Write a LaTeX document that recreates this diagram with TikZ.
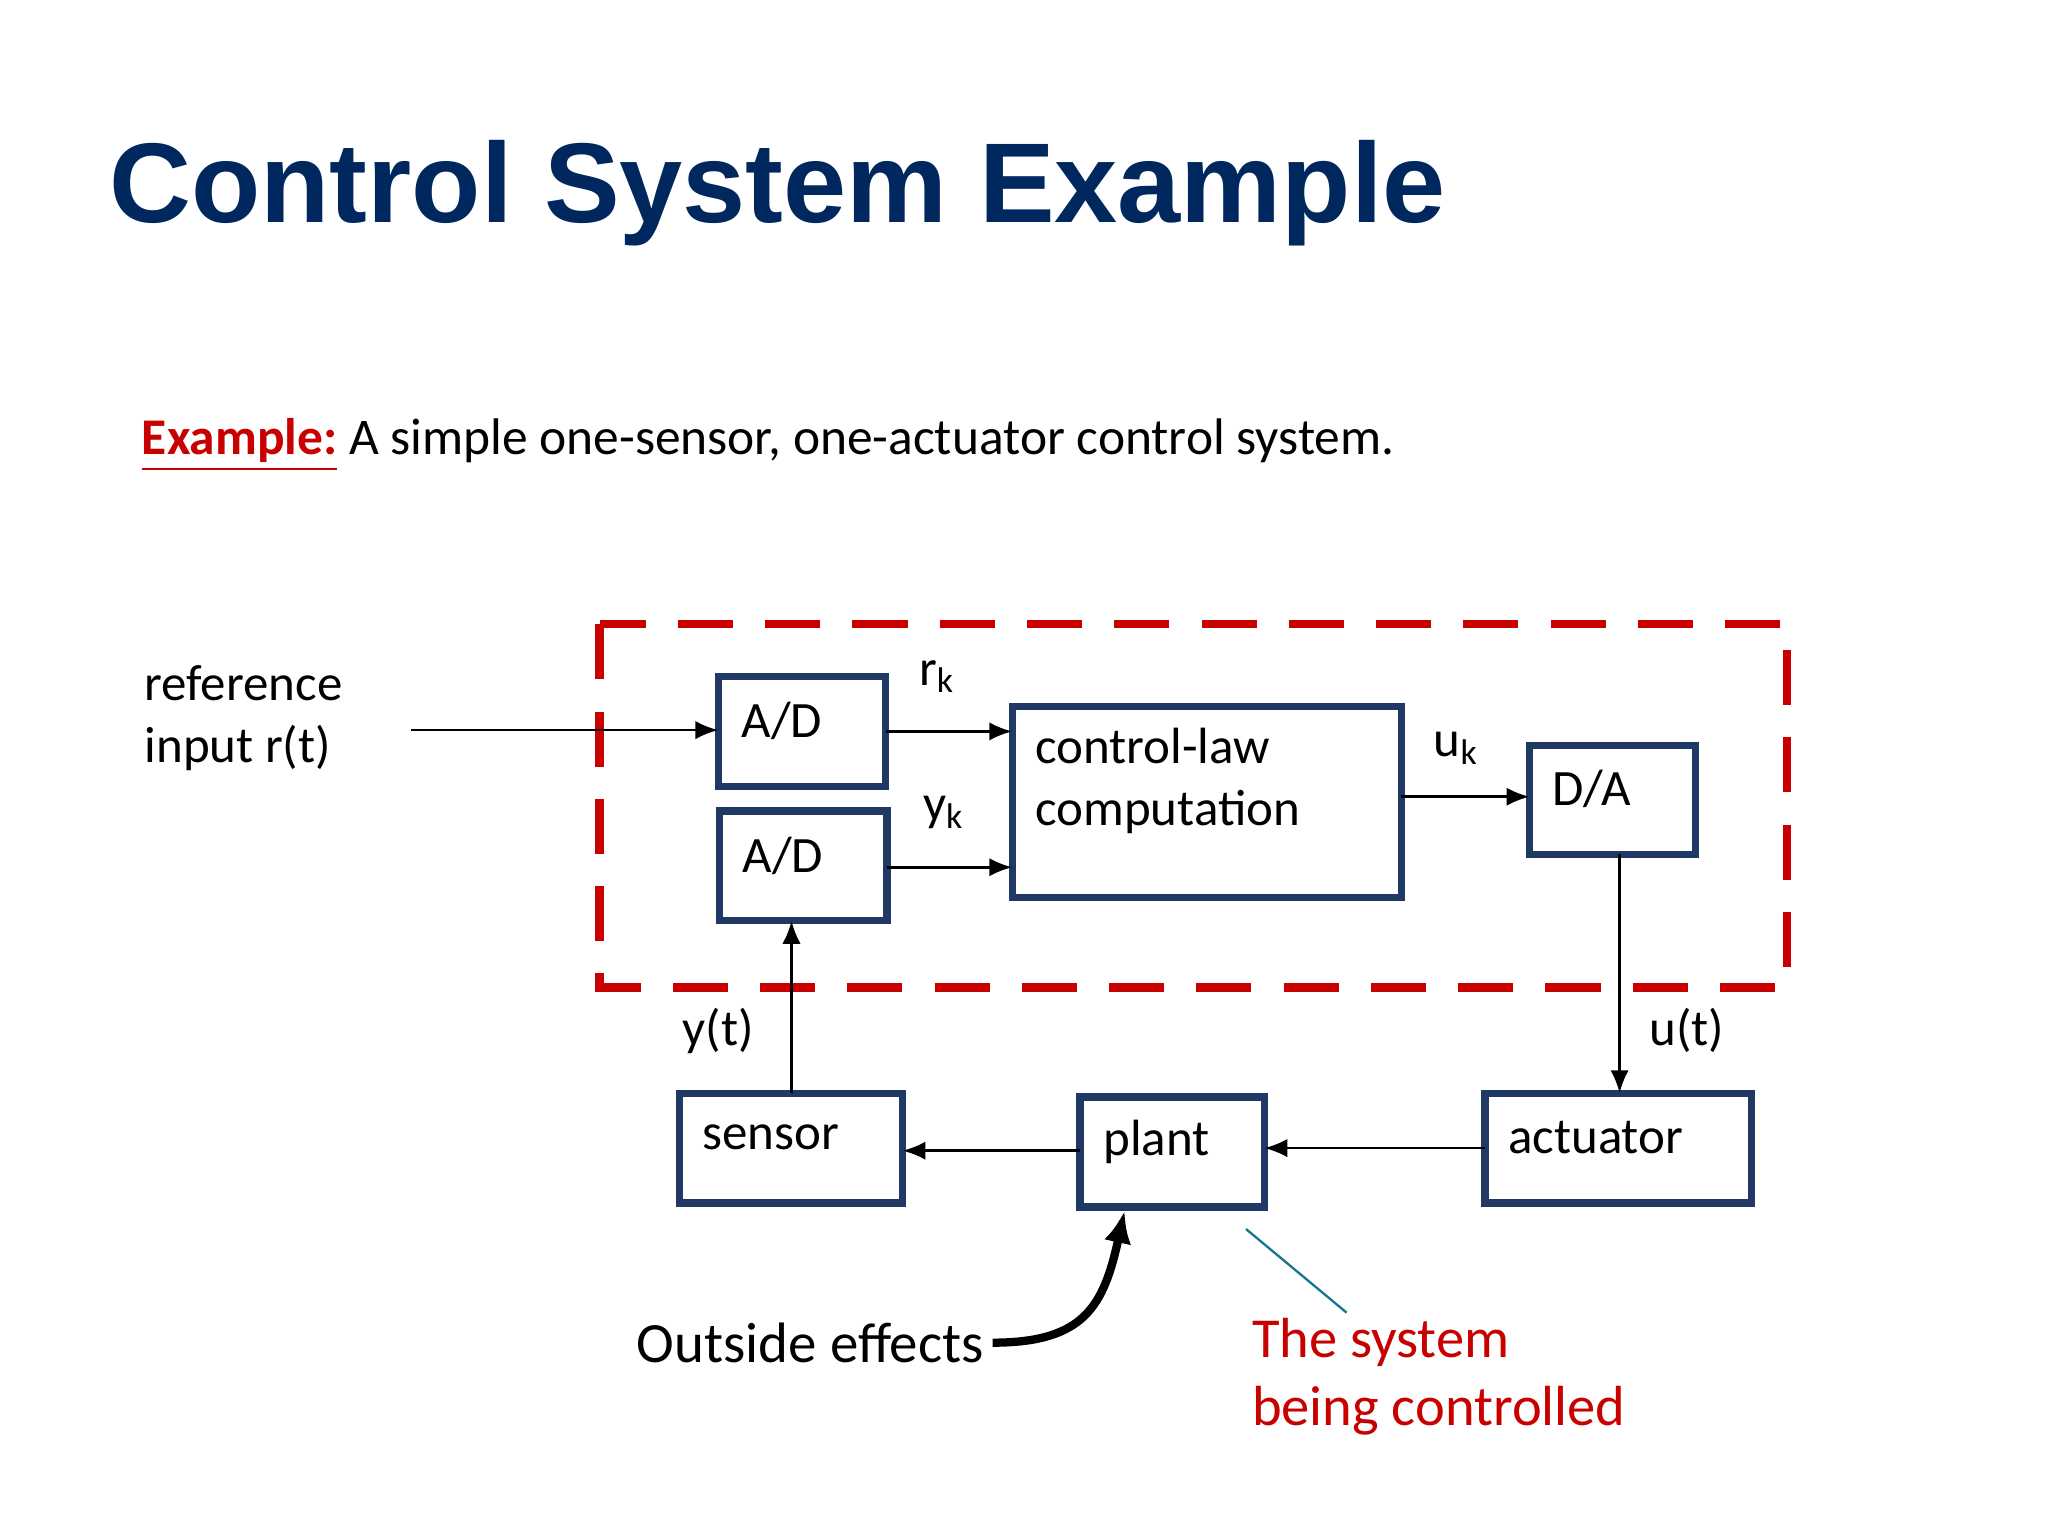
\documentclass[tikz,border=0pt]{standalone}
\usepackage{fontspec}
\setmainfont{Carlito}
\newfontfamily\titlefont{Liberation Sans}
\usetikzlibrary{arrows.meta}
\definecolor{navy}{RGB}{0,40,95}
\definecolor{boxblue}{RGB}{31,56,100}
\definecolor{darkred}{RGB}{200,0,0}
\begin{document}
\begin{tikzpicture}[x=0.01cm,y=-0.01cm,
  blk/.style={draw=boxblue,line width=1.6pt},
  lbl/.style={font=\fontsize{11.1}{13.5}\selectfont,anchor=west,inner sep=0pt},
  arr/.style={-{Latex[length=5pt,width=4pt]},line width=0.6pt}]
\useasboundingbox (0,0) rectangle (1568,1176);
\node[anchor=west,inner sep=0pt,text=navy,font=\titlefont\bfseries\fontsize{24.7}{28}\selectfont] (title) at (83,148) {Control System Example};
\node[lbl,font=\fontsize{11.2}{13}\selectfont] (ex) at (108,341) {\textcolor{darkred}{\textbf{\underline{Example:}}} A simple one-sensor, one-actuator control system.};
\draw[darkred,line width=1.8pt,dash pattern=on 12pt off 7pt] (459,478) rectangle (1368,756);
\draw[blk] (550,518) rectangle (678,602);
\draw[blk] (551,621) rectangle (679,705);
\draw[blk] (775,541) rectangle (1073,687);
\draw[blk] (1171,571) rectangle (1298,654);
\draw[blk] (520,837) rectangle (691,921);
\draw[blk] (827,840) rectangle (968,924);
\draw[blk] (1137,837) rectangle (1341,921);
\node[lbl] (t1) at (567,552) {A/D};
\node[lbl] (t2) at (568,655) {A/D};
\node[lbl,align=left] (t3) at (792,598) {control-law\\computation};
\node[lbl] (t4) at (1188,604) {D/A};
\node[lbl] (t5) at (537,871) {sensor};
\node[lbl] (t6) at (844,874) {plant};
\node[lbl] (t7) at (1154,871) {actuator};
\node[lbl,align=left] (ref) at (110,550) {reference\\input r(t)};
\node[lbl] (rk) at (703,518) {r$_{\mathrm k}$};
\node[lbl] (yk) at (706,622) {y$_{\mathrm k}$};
\node[lbl] (uk) at (1097,573) {u$_{\mathrm k}$};
\node[lbl] (ut) at (1262,789) {u(t)};
\node[lbl] (yt) at (522,789) {y(t)};
\coordinate (a0) at (315,559); \coordinate (a1) at (550,559);
\draw[arr] (a0) -- (a1);
\coordinate (b0) at (678,560); \coordinate (b1) at (775,560);
\draw[arr] (b0) -- (b1);
\coordinate (c0) at (679,664); \coordinate (c1) at (775,664);
\draw[arr] (c0) -- (c1);
\coordinate (d0) at (1073,610); \coordinate (d1) at (1171,610);
\draw[arr] (d0) -- (d1);
\coordinate (e0) at (1240,654); \coordinate (e1) at (1240,837);
\draw[arr] (e0) -- (e1);
\coordinate (f0) at (606,837); \coordinate (f1) at (606,705);
\draw[arr] (f0) -- (f1);
\coordinate (g0) at (827,881); \coordinate (g1) at (691,881);
\draw[arr] (g0) -- (g1);
\coordinate (h0) at (1137,879); \coordinate (h1) at (968,879);
\draw[arr] (h0) -- (h1);
\node[lbl,font=\fontsize{12.4}{15}\selectfont] (oe) at (487,1028) {Outside effects};
\coordinate (oe1) at (760,1028); \coordinate (oe2) at (861,927);
\draw[-{Latex[length=7pt,width=6pt]},line width=1.8pt] (oe1) .. controls (830,1028) and (845,1000) .. (oe2);
\coordinate (s0) at (954,941); \coordinate (s1) at (1031,1005);
\draw[boxblue!70!cyan,line width=0.5pt] (s0) -- (s1);
\node[lbl,align=left,text=darkred,font=\fontsize{12.3}{14.8}\selectfont] (sys) at (958,1054) {The system\\being controlled};
\end{tikzpicture}
\end{document}
